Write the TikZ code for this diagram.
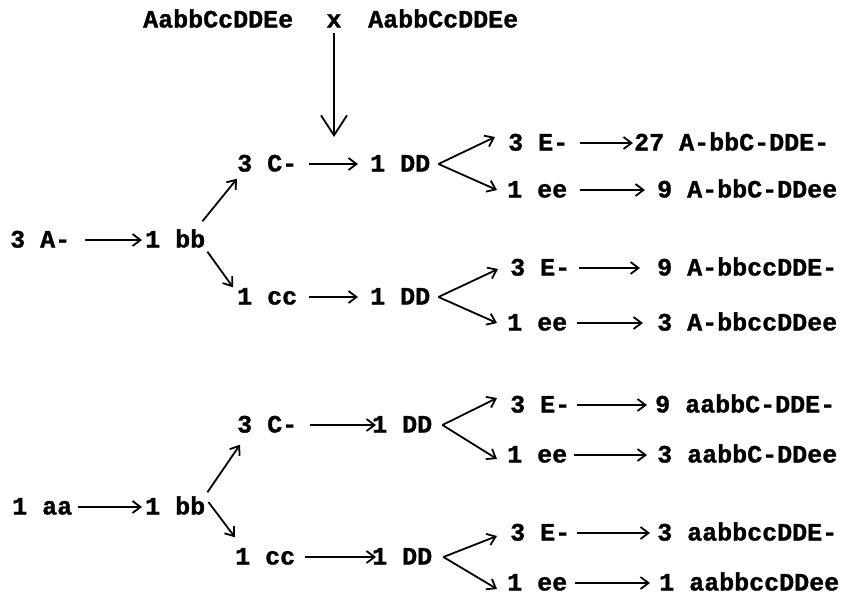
\documentclass[tikz,border=0pt]{standalone}
\usepackage{fontspec}
\newfontfamily\typewriter{Liberation Mono}[BoldFeatures={FakeBold=1.2}]
\usetikzlibrary{arrows.meta}
\begin{document}
\begin{tikzpicture}[x=1pt,y=-1pt,
  lbl/.style={anchor=west, inner sep=0pt, text height=15pt, text depth=0pt,
    font=\typewriter\bfseries\fontsize{25}{30}\selectfont},
  arr/.style={line width=1.8pt, -{Straight Barb[length=8pt,width=12pt]}},
  bigarr/.style={line width=1.8pt, -{Straight Barb[length=20pt,width=26pt]}}]
\useasboundingbox (0,0) rectangle (847,598);

% parental cross
\node[lbl] (p1) at (143,20) {AabbCcDDEe};
\node[lbl, anchor=center] (cross) at (334,20) {x};
\node[lbl] (p2) at (368,20) {AabbCcDDEe};
\coordinate (join) at (334,137);
\draw[bigarr, shorten <=5pt] (cross.south) -- (join);

% ---------- A- branch ----------
\node[lbl] (a3) at (10,240) {3 A-};
\node[lbl] (b1) at (145,240) {1 bb};
\draw[arr, shorten <=15pt, shorten >=3pt] (a3.east) -- (b1.west);

\node[lbl] (c3) at (237,164) {3 C-};
\node[lbl] (c1) at (237,297) {1 cc};
\draw[arr] ([shift={(-3,-11)}]b1.north east) -- ([shift={(0,7)}]c3.south west);
\draw[arr] ([shift={(2,4)}]b1.south east) -- ([shift={(-4,-2)}]c1.north west);

\node[lbl] (d1) at (370,164) {1 DD};
\node[lbl] (d2) at (370,297) {1 DD};
\draw[arr, shorten <=12pt, shorten >=12pt] (c3.east) -- (d1.west);
\draw[arr, shorten <=12pt, shorten >=12pt] (c1.east) -- (d2.west);

\node[lbl] (e1) at (508,143) {3 E-};
\node[lbl] (f1) at (507,190) {1 ee};
\node[lbl] (e2) at (510,268) {3 E-};
\node[lbl] (f2) at (507,323) {1 ee};
\draw[arr] ([xshift=8pt]d1.east) -- ([shift={(-13,-6)}]e1.west);
\draw[arr] ([xshift=8pt]d1.east) -- ([shift={(-10,0)}]f1.west);
\draw[arr] ([xshift=8pt]d2.east) -- ([shift={(-12,1)}]e2.west);
\draw[arr] ([xshift=8pt]d2.east) -- ([shift={(-10,0)}]f2.west);

\node[lbl] (g1) at (634,143) {27 A-bbC-DDE-};
\node[lbl] (g2) at (657,190) {9 A-bbC-DDee};
\node[lbl] (g3) at (657,268) {9 A-bbccDDE-};
\node[lbl] (g4) at (657,323) {3 A-bbccDDee};
\draw[arr, shorten <=12pt, shorten >=1pt] (e1.east) -- (g1.west);
\draw[arr, shorten <=13pt, shorten >=12pt] (f1.east) -- (g2.west);
\draw[arr, shorten <=9pt, shorten >=17pt] (e2.east) -- (g3.west);
\draw[arr, shorten <=10pt, shorten >=14pt] (f2.east) -- (g4.west);

% ---------- aa branch ----------
\node[lbl] (n1) at (12,507) {1 aa};
\node[lbl] (b2) at (145,507) {1 bb};
\draw[arr, shorten <=6pt, shorten >=3pt] (n1.east) -- (b2.west);

\node[lbl] (c4) at (237,425) {3 C-};
\node[lbl] (c5) at (235,557) {1 cc};
\draw[arr] ([shift={(2,-7)}]b2.north east) -- ([shift={(3,12)}]c4.south west);
\draw[arr] ([shift={(3,-5)}]b2.east) -- ([shift={(0,-12)}]c5.north west);

\node[lbl] (d3) at (372,425) {1 DD};
\node[lbl] (d4) at (372,557) {1 DD};
\draw[arr, shorten <=13pt] (c4.east) -- ([xshift=4pt]d3.west);
\draw[arr, shorten <=10pt] (c5.east) -- ([xshift=4pt]d4.west);

\node[lbl] (e3) at (510,405) {3 E-};
\node[lbl] (f3) at (507,455) {1 ee};
\node[lbl] (e4) at (510,533) {3 E-};
\node[lbl] (f4) at (507,583) {1 ee};
\draw[arr] ([xshift=10pt]d3.east) -- ([shift={(-13,-7)}]e3.west);
\draw[arr] ([xshift=10pt]d3.east) -- ([shift={(-10,4)}]f3.west);
\draw[arr] ([xshift=11pt]d4.east) -- ([shift={(-13,3)}]e4.west);
\draw[arr] ([xshift=11pt]d4.east) -- ([shift={(-10,6)}]f4.west);

\node[lbl] (r5) at (655,405) {9 aabbC-DDE-};
\node[lbl] (r6) at (657,455) {3 aabbC-DDee};
\node[lbl] (r7) at (657,533) {3 aabbccDDE-};
\node[lbl] (r8) at (659,583) {1 aabbccDDee};
\draw[arr, shorten <=7pt, shorten >=8pt] (e3.east) -- (r5.west);
\draw[arr, shorten <=7pt, shorten >=10pt] (f3.east) -- (r6.west);
\draw[arr, shorten <=7pt, shorten >=7pt] (e4.east) -- (r7.west);
\draw[arr, shorten <=8pt, shorten >=9pt] (f4.east) -- (r8.west);
\end{tikzpicture}
\end{document}
